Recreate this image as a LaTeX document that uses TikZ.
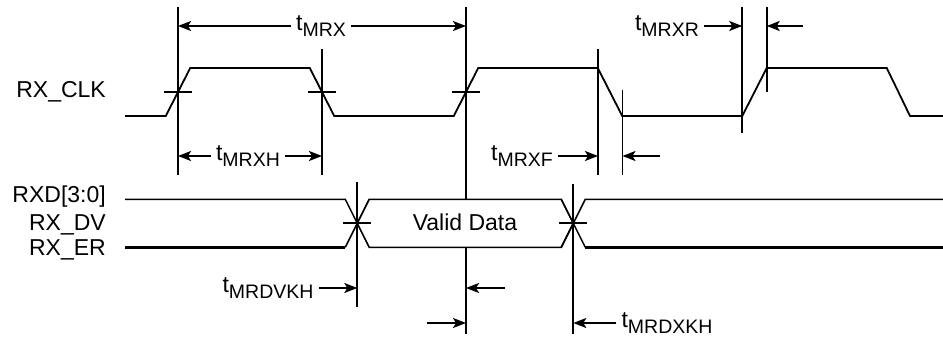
\documentclass[tikz,border=0pt]{standalone}
\usepackage{fontspec}
\setmainfont{Liberation Sans}
\usetikzlibrary{arrows.meta, calc, positioning}

\newcommand{\tsub}[1]{t\raisebox{-6pt}{\fontsize{19.5pt}{20pt}\selectfont #1}}

\begin{document}
\begin{tikzpicture}[x=1pt, y=-1pt,
  sig/.style={line width=1.8pt, line join=miter},
  ref/.style={line width=1.8pt},
  dim/.style={line width=1.8pt, -{Stealth[length=13pt, width=10pt, inset=3pt]}},
  lab/.style={font=\fontsize{23pt}{25pt}\selectfont, inner sep=0pt},
  tlab/.style={font=\fontsize{23pt}{25pt}\selectfont, inner xsep=5pt, inner ysep=0pt}]

\useasboundingbox (0,0) rectangle (943,342);

%//signal names
\node[lab, anchor=base east] (clk) at (106,98) {RX\_CLK};
\foreach \y/\nm/\val in {203/rxd/RXD[3:0], 230/rxdv/RX\_DV, 255/rxer/RX\_ER}
\node[lab, anchor=base east] (\nm) at (106,\y) {\val};

%//clock
\draw[sig] (125,116) -- (165.75,116) -- (190.25,68) -- (309.75,68) -- (334.25,116)
  -- (453.75,116) -- (478.25,68) -- (597.75,68) -- (622.25,116) -- (742.25,116)
  -- (766.75,68) -- (886.75,68) -- (910,116) -- (943,116);

%//reference lines
\foreach \nm/\x/\ya/\yb in {ra/178/7/175, fa/322/49/175, rb/466/7/334, fba/598/49/175,
  fbb/622.5/90/175, rca/742.25/7/133, rcb/766.75/7/92.5, dv/357.3/182/307, dx/573.3/184/334}
{
\coordinate (\nm T) at (\x,\ya);
\coordinate (\nm B) at (\x,\yb);
\draw[ref] (\nm T) -- (\nm B);
}

\foreach \x in {178,322,466}
\draw[ref] (\x-14,92) -- (\x+14,92);

%//data lines
\draw[sig, line width=1.5pt] (125,199.3) -- (345.3,199.3) -- (369.3,247.3);
\draw[sig, line width=2.8pt] (125,247.3) -- (345.3,247.3);
\draw[sig, line width=1.5pt] (345.3,247.3) -- (369.3,199.3);
\draw[sig, line width=1.5pt, fill=white] (369.3,199.3) -- (561.3,199.3) -- (573.3,223.3)
  -- (561.3,247.3) -- (369.3,247.3) -- (357.3,223.3) -- cycle;
\draw[sig, line width=1.5pt] (561.3,199.3) -- (585.3,247.3);
\draw[sig, line width=1.5pt] (561.3,247.3) -- (585.3,199.3) -- (943,199.3);
\draw[sig, line width=2.8pt] (585.3,247.3) -- (943,247.3);
\node[lab] (valid) at (465,222.5) {Valid Data};

\foreach \x in {357.3,573.3}
\draw[ref] (\x-14,223.3) -- (\x+14,223.3);

%//timing labels
\node[tlab] (tMRX) at (321,26) {\tsub{MRX}};
\draw[dim] (tMRX.west) -- (tMRX.west -| raT);
\draw[dim] (tMRX.east) -- (tMRX.east -| rbT);

\node[tlab] (tMRXH) at (248,156) {\tsub{MRXH}};
\draw[dim] (tMRXH.west) -- (tMRXH.west -| raT);
\draw[dim] (tMRXH.east) -- (tMRXH.east -| faT);

\node[tlab] (tMRXF) at (522,156) {\tsub{MRXF}};
\coordinate (fIn) at (660,156);
\draw[dim] (tMRXF.east) -- (tMRXF.east -| fbaT);
\draw[dim] (fIn) -- (fIn -| fbbT);

\node[tlab] (tMRXR) at (667,26) {\tsub{MRXR}};
\coordinate (rIn) at (803,26);
\draw[dim] (tMRXR.east) -- (tMRXR.east -| rcaT);
\draw[dim] (rIn) -- (rIn -| rcbT);

\node[tlab] (tMRDVKH) at (268,288) {\tsub{MRDVKH}};
\coordinate (vIn) at (505,288);
\draw[dim] (tMRDVKH.east) -- (tMRDVKH.east -| dvT);
\draw[dim] (vIn) -- (vIn -| rbT);

\node[tlab] (tMRDXKH) at (667,323) {\tsub{MRDXKH}};
\coordinate (xIn) at (427,323);
\draw[dim] (xIn) -- (xIn -| rbT);
\draw[dim] (tMRDXKH.west) -- (tMRDXKH.west -| dxT);
\end{tikzpicture}
\end{document}
